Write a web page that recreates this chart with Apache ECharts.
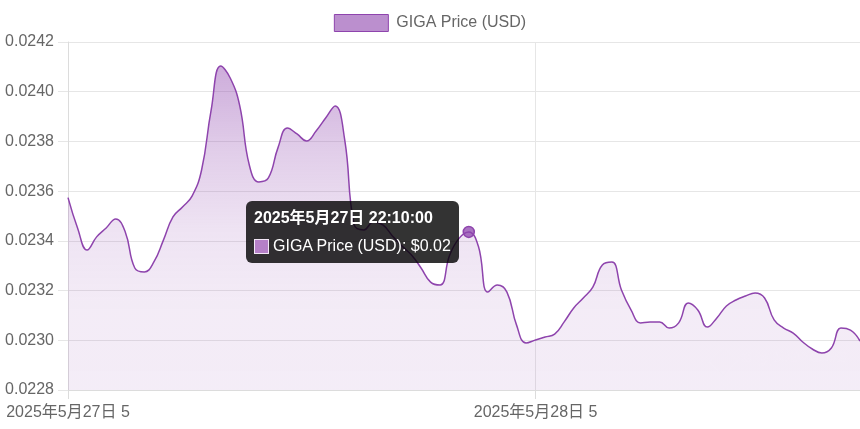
<!DOCTYPE html>
<html>
<head>
<meta charset="utf-8">
<script src="https://cdn.jsdelivr.net/npm/echarts@6/dist/echarts.min.js"></script>
<style>
html,body{margin:0;padding:0;background:#fff;}
#chart{width:860px;height:429px;}
</style>
</head>
<body>
<div id="chart"></div>
<script>
// ---- data ----
const seriesName = 'GIGA Price (USD)';
const prices = [
  0.023574, 0.023452, 0.023363, 0.023416, 0.023452, 0.023488, 0.023436, 0.023291, 0.023275, 0.023315,
  0.023403, 0.023496, 0.023536, 0.023580, 0.023685, 0.023926, 0.024103, 0.024055, 0.023943, 0.023705,
  0.023637, 0.023653, 0.023774, 0.023854, 0.023830, 0.023802, 0.023842, 0.023894, 0.023943, 0.023806,
  0.023464, 0.023444, 0.023476, 0.023464, 0.023420, 0.023379, 0.023343, 0.023291, 0.023234, 0.023222,
  0.023343, 0.023411, 0.023436, 0.023379, 0.023194, 0.023222, 0.023194, 0.023062, 0.022989, 0.023001,
  0.023013, 0.023025, 0.023074, 0.023130, 0.023170, 0.023214, 0.023303, 0.023315, 0.023202, 0.023122,
  0.023070, 0.023074, 0.023074, 0.023049, 0.023070, 0.023150, 0.023122, 0.023053, 0.023090, 0.023138,
  0.023162, 0.023178, 0.023190, 0.023170, 0.023082, 0.023049, 0.023029, 0.022993, 0.022965, 0.022949,
  0.022969, 0.023049, 0.023041, 0.022997
];
const tickIndices = [0, 49];
const tickLabels = ['2025年5月27日 5', '2025年5月28日 5'];
const yMin = 0.0228, yMax = 0.0242, yStep = 0.0002;
const hoverIndex = 42;
const hoverTitle = '2025年5月27日 22:10:00';

const categories = prices.map((_, i) => {
  const k = tickIndices.indexOf(i);
  return k >= 0 ? tickLabels[k] : 'p' + i;
});
const FONT = '"Liberation Sans", Arial, "Noto Sans CJK JP", sans-serif';
const PURPLE = '#8e44ad';

const chart = echarts.init(document.getElementById('chart'), null, {renderer: 'canvas'});
const isTick = (i) => tickIndices.indexOf(i) >= 0;

chart.setOption({
  animation: false,
  textStyle: {fontFamily: FONT},
  grid: {left: 68, right: 0, top: 42, bottom: 39, containLabel: false},
  legend: {
    top: 9,
    left: 'center',
    icon: 'rect',
    itemWidth: 54,
    itemHeight: 17,
    itemStyle: {color: 'rgba(142,68,173,0.6)', borderColor: PURPLE, borderWidth: 1},
    textStyle: {color: '#666', fontSize: 16, fontFamily: FONT, padding: [0, 0, 0, 3]},
    data: [seriesName]
  },
  tooltip: {
    trigger: 'item',
    triggerOn: 'none',
    alwaysShowContent: true,
    transitionDuration: 0,
    position: [246, 201],
    backgroundColor: 'rgba(0,0,0,0.8)',
    borderWidth: 0,
    padding: [7, 8, 7, 8],
    extraCssText: 'border-radius:6px;box-shadow:none;',
    textStyle: {color: '#fff', fontSize: 16, fontFamily: FONT},
    formatter: (p) => {
      return '<div style="font-weight:bold;line-height:20px;margin-bottom:8px;">' + hoverTitle + '</div>' +
        '<div style="line-height:20px;display:flex;align-items:center;">' +
        '<span style="display:inline-block;width:13px;height:13px;background:#b580c8;border:1px solid #f2e6f6;margin-right:4px;"></span>' +
        p.seriesName + ': $' + p.value.toFixed(2) + '</div>';
    }
  },
  xAxis: {
    type: 'category',
    data: categories,
    boundaryGap: false,
    axisLine: {show: true, lineStyle: {color: '#dcdcdc', width: 1}},
    axisTick: {show: true, length: 9, interval: (i) => isTick(i), lineStyle: {color: '#dcdcdc'}},
    splitLine: {show: true, interval: (i) => isTick(i), lineStyle: {color: '#e6e6e6', width: 1}},
    axisLabel: {
      interval: (i) => isTick(i),
      color: '#666', fontSize: 16, margin: 15, fontFamily: FONT
    }
  },
  yAxis: {
    type: 'value',
    min: yMin,
    max: yMax,
    interval: yStep,
    axisLine: {show: true, lineStyle: {color: '#dcdcdc', width: 1}},
    axisTick: {show: true, length: 10, lineStyle: {color: '#e6e6e6'}},
    splitLine: {show: true, lineStyle: {color: '#e6e6e6', width: 1}},
    axisLabel: {color: '#666', fontSize: 16, margin: 14, fontFamily: FONT, formatter: (v) => v.toFixed(4)}
  },
  graphic: [
    {
      type: 'rect', left: 709, top: 347, shape: {width: 20, height: 20}, rotation: Math.PI / 4,
      originX: 719, originY: 357, style: {fill: 'rgba(255,255,255,0.55)'}, silent: true, z: 1
    },
    {
      type: 'text', left: 741, top: 347,
      style: {text: 'cryptonews', fill: 'rgba(255,255,255,0.7)', font: 'bold 19px ' + FONT},
      silent: true, z: 1
    }
  ],
  series: [{
    name: seriesName,
    type: 'line',
    data: prices,
    smooth: 0.45,
    showSymbol: true,
    showAllSymbol: true,
    symbol: 'circle',
    symbolSize: (v, p) => (p.dataIndex === hoverIndex ? 11 : 0),
    itemStyle: {color: 'rgba(142,68,173,0.75)', borderColor: PURPLE, borderWidth: 1.5},
    lineStyle: {color: PURPLE, width: 1.5},
    emphasis: {disabled: true},
    areaStyle: {
      color: {
        type: 'linear', x: 0, y: 42, x2: 0, y2: 390, global: true,
        colorStops: [
          {offset: 0, color: 'rgba(142,68,173,0.7)'},
          {offset: 0.31, color: 'rgba(142,68,173,0.38)'},
          {offset: 0.54, color: 'rgba(142,68,173,0.21)'},
          {offset: 0.75, color: 'rgba(142,68,173,0.15)'},
          {offset: 1, color: 'rgba(142,68,173,0.14)'}
        ]
      }
    },
    z: 2
  }]
});

chart.dispatchAction({type: 'showTip', seriesIndex: 0, dataIndex: hoverIndex});
</script>
</body>
</html>
